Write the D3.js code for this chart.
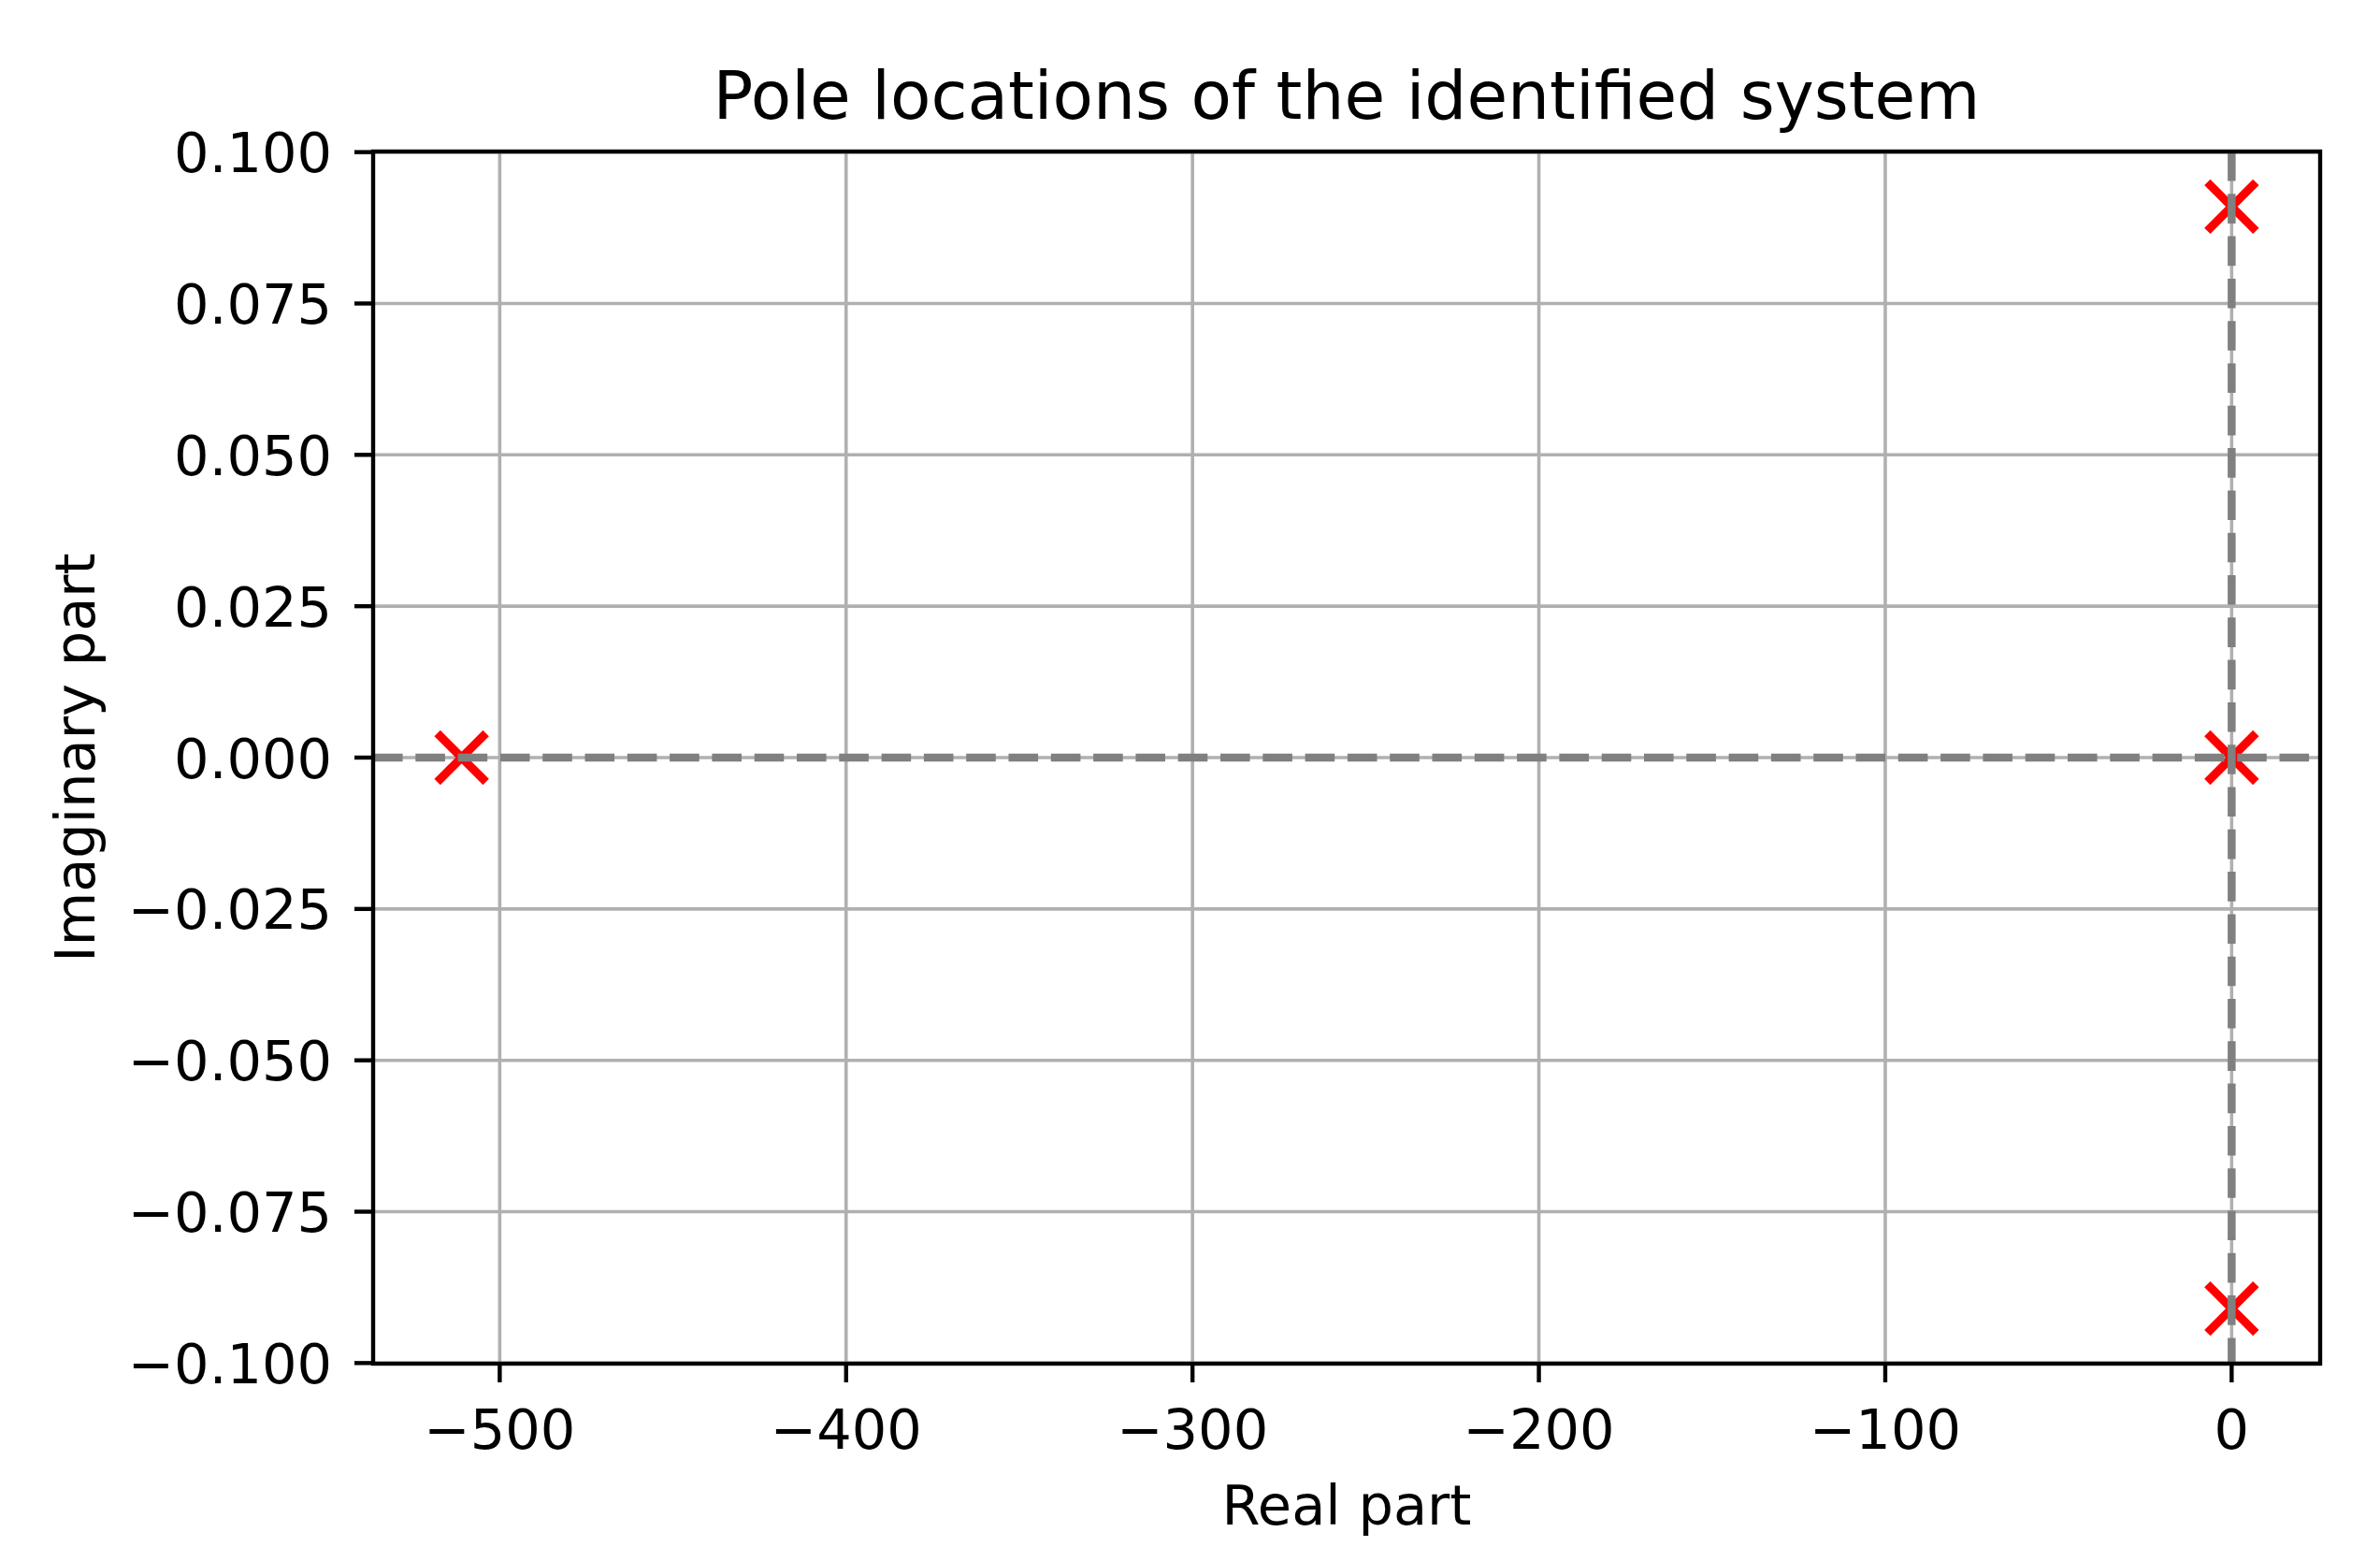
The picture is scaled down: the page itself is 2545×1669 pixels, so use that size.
<!DOCTYPE html>
<html>
<head>
<meta charset="utf-8">
<script src="https://cdn.jsdelivr.net/npm/d3@7"></script>
<style>
html,body{margin:0;padding:0;background:#fff;}
svg{display:block;font-family:"DejaVu Sans",sans-serif;}
</style>
</head>
<body>
<svg id="chart" width="2545" height="1669"></svg>
<script>
// Data
const poleReal = [-511, 0, 0, 0];
const poleImag = [0, 0.091, 0, -0.091];
const xTicks = [-500, -400, -300, -200, -100, 0];
const yTicks = [-0.100, -0.075, -0.050, -0.025, 0.000, 0.025, 0.050, 0.075, 0.100];
const titleText = "Pole locations of the identified system";
const xLabelText = "Real part";
const yLabelText = "Imaginary part";

const W = 2545, H = 1669;
const m = {left: 399, right: 2481, top: 162, bottom: 1458};
const svg = d3.select("#chart");

function padded(ext){ const d = ext[1]-ext[0]; return [ext[0]-0.05*d, ext[1]+0.05*d]; }
const x = d3.scaleLinear().domain(padded(d3.extent(poleReal))).range([m.left, m.right]);
const y = d3.scaleLinear().domain(padded(d3.extent(poleImag))).range([m.bottom, m.top]);

const fmtMinus = s => s.replace("-", "\u2212");

// Grid
const grid = svg.append("g");
grid.selectAll("line.gx").data(xTicks).enter().append("line")
  .attr("x1", d=>x(d)).attr("x2", d=>x(d)).attr("y1", m.top).attr("y2", m.bottom)
  .attr("stroke", "#b0b0b0").attr("stroke-width", 3.6);
grid.selectAll("line.gy").data(yTicks).enter().append("line")
  .attr("x1", m.left).attr("x2", m.right).attr("y1", d=>y(d)).attr("y2", d=>y(d))
  .attr("stroke", "#b0b0b0").attr("stroke-width", 3.6);

// Markers (x)
const ms = 26;
const pts = poleReal.map((r,i)=>({r, im: poleImag[i]}));
const mk = svg.append("g");
pts.forEach(p=>{
  const cx = x(p.r), cy = y(p.im);
  mk.append("path")
    .attr("d", `M${cx-ms},${cy-ms}L${cx+ms},${cy+ms}M${cx-ms},${cy+ms}L${cx+ms},${cy-ms}`)
    .attr("stroke", "#ff0000").attr("stroke-width", 9).attr("fill", "none");
});

// Dashed reference lines
svg.append("line").attr("x1", m.left).attr("x2", m.right).attr("y1", y(0)).attr("y2", y(0))
  .attr("stroke", "#808080").attr("stroke-width", 8.5).attr("stroke-dasharray", "31.6,13.7");
svg.append("line").attr("x1", x(0)).attr("x2", x(0)).attr("y1", m.top).attr("y2", m.bottom)
  .attr("stroke", "#808080").attr("stroke-width", 8.5).attr("stroke-dasharray", "31.6,13.7");

// Spines
svg.append("rect").attr("x", m.left).attr("y", m.top)
  .attr("width", m.right-m.left).attr("height", m.bottom-m.top)
  .attr("fill", "none").attr("stroke", "#000").attr("stroke-width", 4.4);

// X axis ticks
const tickLen = 20, fs = 59;
const xa = svg.append("g");
xa.selectAll("line").data(xTicks).enter().append("line")
  .attr("x1", d=>x(d)).attr("x2", d=>x(d)).attr("y1", m.bottom).attr("y2", m.bottom+tickLen)
  .attr("stroke", "#000").attr("stroke-width", 4.4);
xa.selectAll("text").data(xTicks).enter().append("text")
  .attr("x", d=>x(d)).attr("y", 1549)
  .attr("text-anchor", "middle").attr("font-size", fs).attr("fill", "#000")
  .text(d=>fmtMinus(d3.format("d")(d)));

// Y axis ticks
const ya = svg.append("g");
ya.selectAll("line").data(yTicks).enter().append("line")
  .attr("x1", m.left-tickLen).attr("x2", m.left).attr("y1", d=>y(d)).attr("y2", d=>y(d))
  .attr("stroke", "#000").attr("stroke-width", 4.4);
ya.selectAll("text").data(yTicks).enter().append("text")
  .attr("x", 355).attr("y", d=>y(d)+21.5)
  .attr("text-anchor", "end").attr("font-size", fs).attr("fill", "#000")
  .text(d=>fmtMinus(d3.format(".3f")(d)));

// Labels
svg.append("text").attr("x", (m.left+m.right)/2).attr("y", 1630)
  .attr("text-anchor", "middle").attr("font-size", fs).text(xLabelText);
svg.append("text").attr("transform", `translate(101,${(m.top+m.bottom)/2}) rotate(-90)`)
  .attr("text-anchor", "middle").attr("font-size", fs).text(yLabelText);
svg.append("text").attr("x", (m.left+m.right)/2).attr("y", 127)
  .attr("text-anchor", "middle").attr("font-size", 71).text(titleText);
</script>
</body>
</html>
